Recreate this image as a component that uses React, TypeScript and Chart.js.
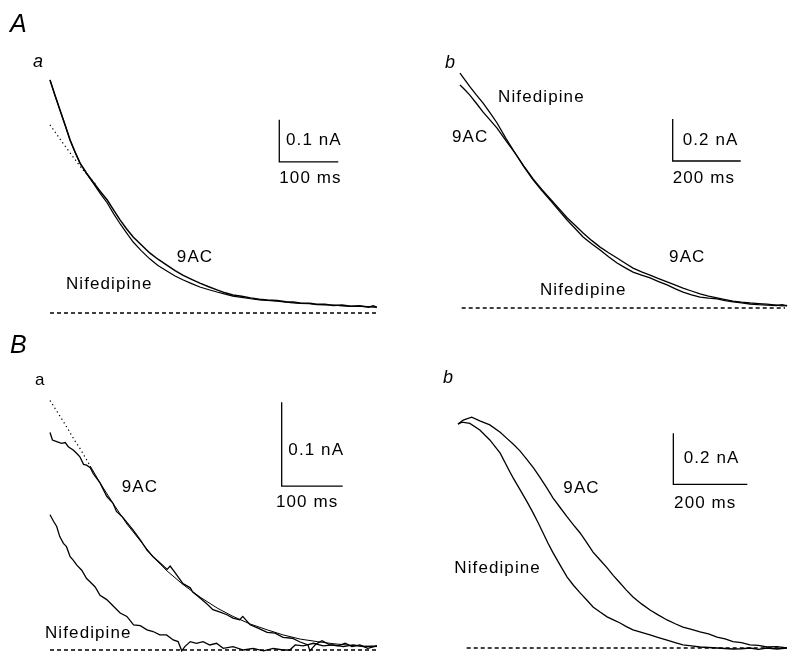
import React, { useEffect, useRef } from "react";
import { Chart, registerables } from "chart.js";
Chart.register(...registerables);

// ---------- Panel A a (time ms, current nA) ----------
const AA_T = [0, 8, 17, 25, 34, 42, 51, 62, 73, 85, 97, 108, 119, 130, 141, 155, 169, 183, 198, 212, 225, 240, 254, 268, 283, 297, 310, 325, 340, 355, 368, 385, 400, 412, 424, 440, 452, 466, 480, 495, 510, 525, 540, 548, 554];
const AA_9AC = [0.555, 0.52, 0.483, 0.45, 0.412, 0.385, 0.357, 0.333, 0.312, 0.29, 0.269, 0.245, 0.221, 0.2, 0.181, 0.162, 0.143, 0.128, 0.114, 0.101, 0.09, 0.08, 0.071, 0.063, 0.055, 0.048, 0.043, 0.04, 0.036, 0.033, 0.031, 0.03, 0.027, 0.026, 0.024, 0.023, 0.021, 0.021, 0.018, 0.019, 0.016, 0.017, 0.014, 0.017, 0.013];
const AA_NIF = [0.555, 0.52, 0.483, 0.45, 0.412, 0.384, 0.356, 0.332, 0.31, 0.285, 0.262, 0.236, 0.212, 0.19, 0.169, 0.148, 0.129, 0.113, 0.1, 0.088, 0.079, 0.07, 0.062, 0.056, 0.05, 0.045, 0.04, 0.037, 0.034, 0.031, 0.03, 0.028, 0.026, 0.024, 0.023, 0.022, 0.02, 0.019, 0.019, 0.017, 0.016, 0.016, 0.015, 0.014, 0.014];
const AA_FIT_T = [0, 10, 20, 30, 40, 50, 60, 70, 78];
const AA_FIT = [0.448, 0.428, 0.408, 0.389, 0.37, 0.351, 0.334, 0.318, 0.306];

// ---------- Panel A b ----------
const AB_T = [0, 15, 29, 48, 68, 88, 109, 135, 162, 188, 215, 240, 265, 290, 315, 340, 362, 387, 412, 437, 462, 485, 509, 534, 559, 584, 609, 632, 656, 681, 706, 731, 756, 780, 803, 828, 853, 878, 903, 930, 948, 962];
const AB_NIF = [1.118, 1.085, 1.054, 1.015, 0.976, 0.93, 0.881, 0.808, 0.738, 0.672, 0.61, 0.56, 0.514, 0.466, 0.419, 0.376, 0.338, 0.306, 0.276, 0.244, 0.214, 0.192, 0.171, 0.157, 0.143, 0.126, 0.11, 0.092, 0.076, 0.063, 0.052, 0.047, 0.043, 0.035, 0.029, 0.024, 0.019, 0.016, 0.014, 0.012, 0.016, 0.01];
const AB_9AC = [1.062, 1.038, 1.014, 0.975, 0.933, 0.896, 0.857, 0.797, 0.738, 0.676, 0.615, 0.566, 0.52, 0.475, 0.43, 0.392, 0.357, 0.322, 0.29, 0.263, 0.238, 0.214, 0.19, 0.172, 0.157, 0.14, 0.124, 0.11, 0.095, 0.081, 0.067, 0.057, 0.048, 0.04, 0.033, 0.028, 0.024, 0.021, 0.018, 0.014, 0.01, 0.012];

// ---------- Panel B a ----------
const BA_9AC_T = [0, 4, 11, 19, 25, 30, 38, 44, 49, 55, 60, 66, 71, 82, 93, 103, 109, 118, 126, 136, 148, 159, 169, 180, 192, 197, 205, 218, 230, 234, 246, 257, 267, 279, 290, 300, 311, 316, 328, 341, 356, 369, 382, 397, 410, 423, 426, 436, 446, 459, 472, 484, 495, 508, 521, 536];
const BA_9AC = [0.259, 0.25, 0.248, 0.246, 0.247, 0.242, 0.238, 0.234, 0.23, 0.221, 0.22, 0.217, 0.21, 0.199, 0.183, 0.175, 0.165, 0.159, 0.152, 0.143, 0.131, 0.119, 0.111, 0.104, 0.096, 0.1, 0.092, 0.079, 0.074, 0.069, 0.062, 0.055, 0.048, 0.045, 0.042, 0.038, 0.036, 0.04, 0.03, 0.026, 0.021, 0.02, 0.015, 0.014, 0.0095, 0.006, -0.001, 0.007, 0.011, 0.006, 0.005, 0.008, 0.004, 0.006, 0.002, 0.005];
const BA_FIT_DOT_T = [0, 14, 27, 40, 49, 58, 66];
const BA_FIT_DOT = [0.297, 0.281, 0.266, 0.25, 0.24, 0.229, 0.219];
const BA_FIT_T = [66, 82, 103, 126, 148, 169, 192, 218, 246, 274, 300, 328, 356, 382, 410, 438, 464, 500, 536];
const BA_FIT = [0.219, 0.199, 0.175, 0.15, 0.13, 0.111, 0.094, 0.078, 0.063, 0.05, 0.04, 0.031, 0.024, 0.018, 0.013, 0.01, 0.0075, 0.005, 0.004];
const BA_NIF_T = [0, 6, 11, 16, 22, 27, 33, 38, 44, 52, 60, 66, 74, 82, 93, 104, 115, 126, 137, 148, 159, 169, 180, 191, 202, 210, 216, 221, 230, 240, 251, 262, 273, 284, 300, 317, 333, 350, 366, 382, 393, 402, 415, 432, 448, 464, 481, 497, 514, 536];
const BA_NIF = [0.161, 0.153, 0.147, 0.135, 0.127, 0.123, 0.111, 0.107, 0.101, 0.095, 0.085, 0.081, 0.075, 0.065, 0.06, 0.052, 0.044, 0.04, 0.03, 0.029, 0.024, 0.022, 0.018, 0.018, 0.012, 0.01, -0.001, 0.004, 0.01, 0.008, 0.01, 0.006, 0.008, 0.002, 0.004, 0, 0.002, -0.001, 0.002, 0, 0, 0.006, 0.005, 0.008, 0.005, 0.006, 0.004, 0.006, 0.004, 0.005];

// ---------- Panel B b ----------
const BB_9AC_T = [0, 14, 37, 59, 86, 114, 132, 149, 168, 186, 204, 222, 240, 257, 276, 295, 312, 330, 348, 365, 384, 403, 420, 438, 455, 473, 496, 519, 542, 565, 587, 608, 631, 654, 677, 700, 722, 743, 766, 789, 812, 835, 862, 889];
const BB_9AC = [0.878, 0.894, 0.905, 0.891, 0.875, 0.846, 0.822, 0.8, 0.772, 0.74, 0.706, 0.668, 0.628, 0.588, 0.551, 0.514, 0.483, 0.451, 0.413, 0.376, 0.345, 0.314, 0.284, 0.255, 0.227, 0.2, 0.173, 0.149, 0.129, 0.11, 0.095, 0.082, 0.073, 0.063, 0.055, 0.043, 0.036, 0.025, 0.021, 0.012, 0.01, 0.004, 0.005, 0];
const BB_NIF_T = [0, 11, 32, 59, 86, 114, 140, 149, 168, 186, 203, 217, 230, 243, 257, 276, 295, 312, 330, 348, 365, 384, 403, 420, 438, 455, 473, 496, 519, 542, 565, 587, 608, 631, 654, 677, 700, 722, 743, 766, 789, 812, 835, 862, 889];
const BB_NIF = [0.878, 0.886, 0.881, 0.855, 0.816, 0.764, 0.691, 0.667, 0.62, 0.575, 0.53, 0.49, 0.451, 0.412, 0.373, 0.325, 0.278, 0.246, 0.216, 0.188, 0.161, 0.141, 0.122, 0.11, 0.098, 0.084, 0.071, 0.061, 0.051, 0.041, 0.031, 0.021, 0.012, 0.008, 0.004, 0.002, 0, -0.002, -0.004, -0.003, 0, -0.005, 0, -0.004, 0];

// ---------- Scale bars (amplitude nA, duration ms) ----------
const BAR_AMP = [0.1, 0.2, 0.1, 0.2];
const BAR_DUR = [100, 200, 100, 200];
const BAR_AMP_LABELS = ["0.1 nA", "0.2 nA", "0.1 nA", "0.2 nA"];
const BAR_DUR_LABELS = ["100 ms", "200 ms", "100 ms", "200 ms"];

const FONT = '"Liberation Sans", Arial, Helvetica, sans-serif';
const TXT = `17px ${FONT}`;
const ITAL = `italic 18px ${FONT}`;
const BIG = `italic 25px ${FONT}`;

type Series = { t: number[]; v: number[]; dash?: number[]; width?: number };
type Label = { text: string; t: number; v: number; font: string; spacing?: string };
type PanelCfg = {
  left: number; top: number; w: number; h: number;
  ox: number; oy: number; sx: number; sy: number;
  series: Series[];
  bar: { t: number; v: number; amp: number; dur: number };
  base: [number, number];
  labels: Label[];
};

const W = 399, H = 333;

const panels: PanelCfg[] = [
  {
    left: 0, top: 0, w: W, h: H, ox: 50, oy: 313, sx: 0.59, sy: 420,
    series: [
      { t: AA_T, v: AA_9AC, width: 1.5 },
      { t: AA_T, v: AA_NIF, width: 1.2 },
      { t: AA_FIT_T, v: AA_FIT, dash: [1.3, 3], width: 1.2 },
    ],
    bar: { t: 388.6, v: 0.36, amp: BAR_AMP[0], dur: BAR_DUR[0] },
    base: [0, 556],
    labels: [
      { text: "A", t: -67.8, v: 0.669, font: BIG, spacing: "0px" },
      { text: "a", t: -28.8, v: 0.586, font: ITAL, spacing: "0px" },
      { text: "9AC", t: 215, v: 0.121, font: TXT },
      { text: "Nifedipine", t: 27, v: 0.057, font: TXT },
      { text: BAR_AMP_LABELS[0], t: 400, v: 0.4, font: TXT },
      { text: BAR_DUR_LABELS[0], t: 388.6, v: 0.31, font: TXT },
    ],
  },
  {
    left: W, top: 0, w: W, h: H, ox: 61, oy: 308, sx: 0.34, sy: 210,
    series: [
      { t: AB_T, v: AB_NIF, width: 1.3 },
      { t: AB_T, v: AB_9AC, width: 1.3 },
    ],
    bar: { t: 625.6, v: 0.7, amp: BAR_AMP[1], dur: BAR_DUR[1] },
    base: [5, 956],
    labels: [
      { text: "b", t: -44, v: 1.143, font: ITAL, spacing: "0px" },
      { text: "Nifedipine", t: 112, v: 0.982, font: TXT },
      { text: "9AC", t: -23.5, v: 0.792, font: TXT },
      { text: "9AC", t: 615, v: 0.22, font: TXT },
      { text: "Nifedipine", t: 235, v: 0.062, font: TXT },
      { text: BAR_AMP_LABELS[1], t: 655, v: 0.776, font: TXT },
      { text: BAR_DUR_LABELS[1], t: 625.6, v: 0.597, font: TXT },
    ],
  },
  {
    left: 0, top: H, w: W, h: H, ox: 50, oy: 317, sx: 0.61, sy: 840,
    series: [
      { t: BA_9AC_T, v: BA_9AC, width: 1.3 },
      { t: BA_FIT_T, v: BA_FIT, width: 1 },
      { t: BA_FIT_DOT_T, v: BA_FIT_DOT, dash: [1.3, 3], width: 1.2 },
      { t: BA_NIF_T, v: BA_NIF, width: 1.3 },
    ],
    bar: { t: 379.8, v: 0.195, amp: BAR_AMP[2], dur: BAR_DUR[2] },
    base: [0, 536],
    labels: [
      { text: "B", t: -65.6, v: 0.3536, font: BIG, spacing: "0px" },
      { text: "a", t: -24.6, v: 0.3155, font: `17px ${FONT}`, spacing: "0px" },
      { text: "9AC", t: 117.5, v: 0.188, font: TXT },
      { text: "Nifedipine", t: -8.2, v: 0.0139, font: TXT },
      { text: BAR_AMP_LABELS[2], t: 390.7, v: 0.232, font: TXT },
      { text: BAR_DUR_LABELS[2], t: 370.5, v: 0.1706, font: TXT },
    ],
  },
  {
    left: W, top: H, w: W, h: H, ox: 59, oy: 315, sx: 0.37, sy: 255,
    series: [
      { t: BB_9AC_T, v: BB_9AC, width: 1.3 },
      { t: BB_NIF_T, v: BB_NIF, width: 1.3 },
    ],
    bar: { t: 582, v: 0.642, amp: BAR_AMP[3], dur: BAR_DUR[3] },
    base: [23.5, 888],
    labels: [
      { text: "b", t: -40.5, v: 1.039, font: ITAL, spacing: "0px" },
      { text: "9AC", t: 284.7, v: 0.607, font: TXT },
      { text: "Nifedipine", t: -10, v: 0.293, font: TXT },
      { text: BAR_AMP_LABELS[3], t: 610, v: 0.724, font: TXT },
      { text: BAR_DUR_LABELS[3], t: 584, v: 0.549, font: TXT },
    ],
  },
];

function Panel({ cfg }: { cfg: PanelCfg }) {
  const ref = useRef<HTMLCanvasElement | null>(null);
  useEffect(() => {
    if (!ref.current) return;
    const pts = (t: number[], v: number[]) => t.map((x, i) => ({ x, y: v[i] }));
    const line = (data: any[], width: number, dash: number[] = []) => ({
      data,
      showLine: true,
      borderColor: "#000",
      backgroundColor: "#000",
      borderWidth: width,
      borderDash: dash,
      pointRadius: 0,
      fill: false,
      tension: 0,
      clip: false as any,
    });
    const datasets: any[] = cfg.series.map((s) => line(pts(s.t, s.v), s.width ?? 1.2, s.dash ?? []));
    const b = cfg.bar;
    datasets.push(line([{ x: b.t, y: b.v + b.amp }, { x: b.t, y: b.v }, { x: b.t + b.dur, y: b.v }], 1.3));
    datasets.push(line([{ x: cfg.base[0], y: 0 }, { x: cfg.base[1], y: 0 }], 1.4, [4, 3]));

    const labelPlugin = {
      id: "labels",
      afterDatasetsDraw(chart: any) {
        const ctx = chart.ctx as CanvasRenderingContext2D;
        const xs = chart.scales.x, ys = chart.scales.y;
        ctx.save();
        ctx.fillStyle = "#000";
        ctx.textAlign = "left";
        ctx.textBaseline = "alphabetic";
        for (const l of cfg.labels) {
          ctx.font = l.font;
          (ctx as any).letterSpacing = l.spacing ?? "1.1px";
          ctx.fillText(l.text, xs.getPixelForValue(l.t), ys.getPixelForValue(l.v));
        }
        ctx.restore();
      },
    };

    const chart = new Chart(ref.current, {
      type: "scatter",
      data: { datasets },
      options: {
        animation: false,
        responsive: false,
        maintainAspectRatio: false,
        devicePixelRatio: 1,
        layout: { padding: 0 },
        events: [],
        plugins: { legend: { display: false }, tooltip: { enabled: false } },
        scales: {
          x: { type: "linear", display: false, min: -cfg.ox / cfg.sx, max: (cfg.w - cfg.ox) / cfg.sx },
          y: { type: "linear", display: false, min: (cfg.oy - cfg.h) / cfg.sy, max: cfg.oy / cfg.sy },
        },
      },
      plugins: [labelPlugin],
    });
    return () => chart.destroy();
  }, [cfg]);
  return (
    <canvas
      ref={ref}
      width={cfg.w}
      height={cfg.h}
      style={{ position: "absolute", left: cfg.left, top: cfg.top, width: cfg.w, height: cfg.h }}
    />
  );
}

export default function App() {
  return (
    <div style={{ position: "absolute", left: 0, top: 0, width: 798, height: 666, background: "#fff", overflow: "hidden" }}>
      {panels.map((p, i) => (
        <Panel key={i} cfg={p} />
      ))}
    </div>
  );
}
